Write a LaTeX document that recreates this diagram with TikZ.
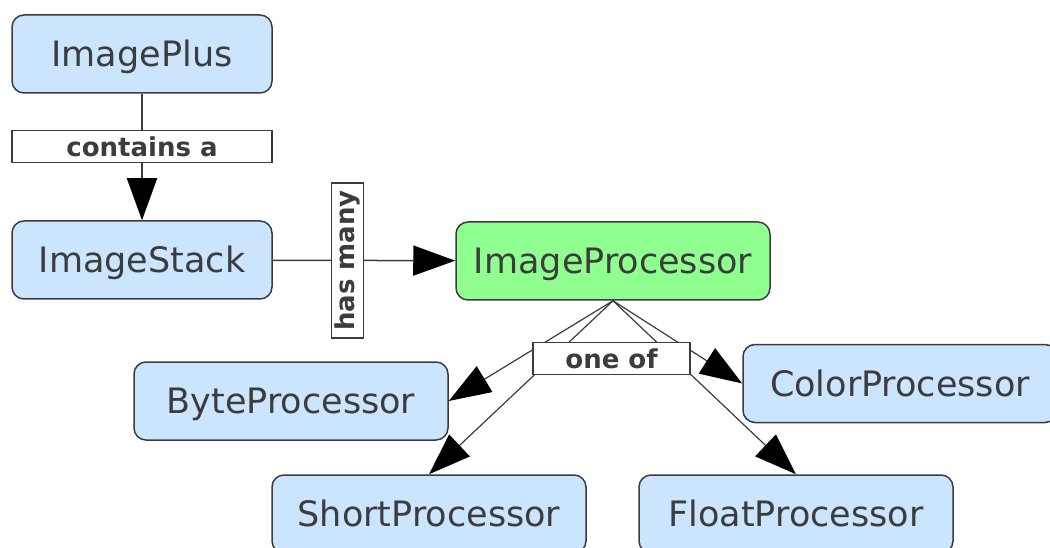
\documentclass[tikz,border=0pt]{standalone}
\usepackage{fontspec}
\setmainfont{DejaVu Sans}
\usetikzlibrary{arrows.meta}
\definecolor{boxblue}{RGB}{204,229,255}
\definecolor{boxgreen}{RGB}{143,255,143}
\definecolor{ink}{RGB}{60,60,60}
\tikzset{
  cls/.style={draw=ink,line width=1.5pt,rounded corners=12pt,fill=boxblue,text=ink,
    minimum width=260pt,minimum height=78pt,text height=25.5pt,text depth=0pt,
    font=\fontsize{35}{40}\selectfont},
  tag/.style={draw=ink,line width=1.2pt,fill=white,text=ink,inner sep=0pt,
    minimum height=32pt,font=\fontsize{26}{30}\selectfont\bfseries},
  rel/.style={draw=ink,line width=1.5pt,-{Triangle[length=42pt,width=30pt,color=black]}},
}
\begin{document}
\begin{tikzpicture}[x=1pt,y=1pt]
  \useasboundingbox (0,0) rectangle (1050,547);
  \node[cls] (plus) at (142,493) {ImagePlus};
  \node[cls] (stack) at (142,287) {ImageStack};
  \node[cls,fill=boxgreen,minimum width=314pt] (proc) at (613,286) {ImageProcessor};
  \node[cls,minimum width=314pt] (byte) at (291,146) {ByteProcessor};
  \node[cls,minimum width=314pt] (short) at (429,33) {ShortProcessor};
  \node[cls,minimum width=314pt] (float) at (796,33) {FloatProcessor};
  \node[cls,minimum width=314pt] (color) at (900,163.5) {ColorProcessor};
  \draw[rel,line width=2pt] (plus) -- (stack) node[tag,pos=0.42,minimum width=260pt] (contains) {contains a};
  \draw[rel] (stack) -- (proc) node[tag,pos=0.41,rotate=90,minimum width=155pt] (hasmany) {has many};
  \foreach \t/\a in {byte/east,short/north,float/north,color/west}
    \draw[rel,line width=1.2pt] (proc.south) -- (\t.\a);
  \node[tag,minimum width=157pt] (oneof) at (611.5,188.5) {one of};
\end{tikzpicture}
\end{document}
